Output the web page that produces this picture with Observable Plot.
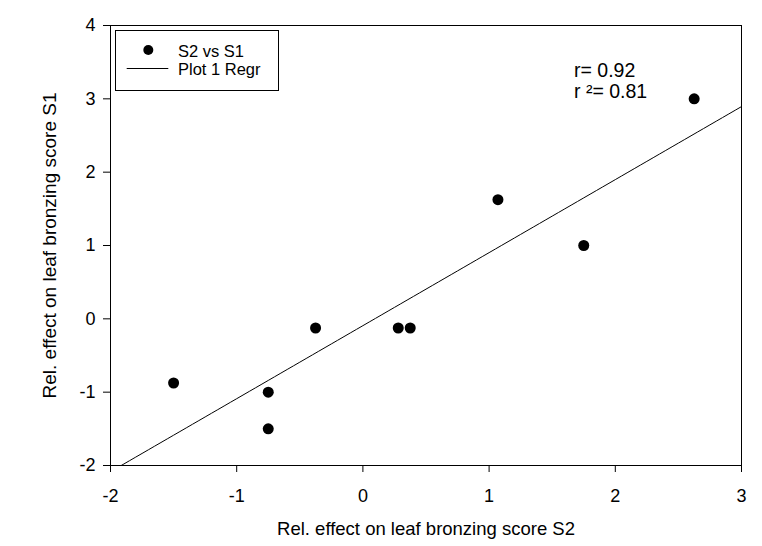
<!DOCTYPE html>
<html>
<head>
<meta charset="utf-8">
<script src="https://cdn.jsdelivr.net/npm/d3@7"></script>
<script src="https://cdn.jsdelivr.net/npm/@observablehq/plot@0.6"></script>
<style>
  html, body { margin: 0; padding: 0; background: #fff; }
  #chart svg { font-family: "Liberation Sans", Arial, sans-serif; }
</style>
</head>
<body>
<div id="chart"></div>
<script>
// Relative effect on leaf bronzing score: S2 (x) vs S1 (y)
const s2 = [2.625, 1.07, 1.75, 0.28, 0.375, -0.375, -0.75, -0.75, -1.5];
const s1 = [3.0, 1.625, 1.0, -0.125, -0.125, -0.125, -1.0, -1.5, -0.875];
const xTicks = [-2, -1, 0, 1, 2, 3];
const yTicks = [-2, -1, 0, 1, 2, 3, 4];
const legendLabels = ["S2 vs S1", "Plot 1 Regr"];
const statLabels = ["r= 0.92", "r \u00b2= 0.81"];

const points = s2.map((x, i) => ({x, y: s1[i]}));

// Least-squares fit of S1 on S2
const mx = d3.mean(s2), my = d3.mean(s1);
const sxy = d3.sum(points, d => (d.x - mx) * (d.y - my));
const sxx = d3.sum(points, d => (d.x - mx) ** 2);
const slope = sxy / sxx;
const intercept = my - slope * mx;
const xDomain = [xTicks[0], xTicks[xTicks.length - 1]];
const fit = d3.range(xDomain[0], xDomain[1] + 1e-9, 0.05).map(x => ({x, y: intercept + slope * x}));

const tickFmt = v => String(v);

// Legend box and correlation labels, placed relative to the frame
function legend(index, scales, values, dims) {
  const g = d3.create("svg:g").attr("text-anchor", "start");
  const x0 = dims.marginLeft, y0 = dims.marginTop;
  g.append("rect")
    .attr("x", x0 + 5.5).attr("y", y0 + 5.5)
    .attr("width", 163).attr("height", 60)
    .attr("fill", "white").attr("stroke", "black").attr("stroke-width", 1);
  g.append("circle")
    .attr("cx", x0 + 38.3).attr("cy", y0 + 25).attr("r", 5).attr("fill", "black");
  g.append("line")
    .attr("x1", x0 + 16.7).attr("x2", x0 + 58.3)
    .attr("y1", y0 + 43.5).attr("y2", y0 + 43.5)
    .attr("stroke", "black").attr("stroke-width", 1);
  legendLabels.forEach((t, i) => {
    g.append("text")
      .attr("x", x0 + 68).attr("y", y0 + 32.3 + i * 17.7)
      .attr("font-size", 16.5).attr("fill", "black").text(t);
  });
  statLabels.forEach((t, i) => {
    g.append("text")
      .attr("x", x0 + 464).attr("y", y0 + 51.7 + i * 21.6)
      .attr("font-size", 19.5).attr("fill", "black").text(t);
  });
  return g.node();
}

const chart = Plot.plot({
  width: 762,
  height: 546,
  marginLeft: 110,
  marginRight: 21,
  marginTop: 25,
  marginBottom: 81,
  style: {fontFamily: "'Liberation Sans', Arial, sans-serif", fontSize: "18px", color: "black", background: "white"},
  x: {domain: xDomain, label: null},
  y: {domain: [yTicks[0], yTicks[yTicks.length - 1]], label: null},
  marks: [
    Plot.frame({stroke: "black", strokeWidth: 1}),
    Plot.axisX({ticks: xTicks, tickFormat: tickFmt, tickSize: 7, tickPadding: 17, fontSize: 18, label: null}),
    Plot.axisY({ticks: yTicks, tickFormat: tickFmt, tickSize: 7, tickPadding: 8, fontSize: 18, label: null}),
    Plot.axisX({ticks: [], label: "Rel. effect on leaf bronzing score S2", labelAnchor: "center", labelArrow: "none", labelOffset: 69, fontSize: 18.5}),
    Plot.axisY({ticks: [], label: "Rel. effect on leaf bronzing score S1", labelAnchor: "center", labelArrow: "none", labelOffset: 68, fontSize: 19}),
    Plot.line(fit, {x: "x", y: "y", stroke: "black", strokeWidth: 1, clip: true}),
    Plot.dot(points, {x: "x", y: "y", r: 5.5, fill: "black", stroke: "none"}),
    legend
  ]
});

document.getElementById("chart").appendChild(chart);
</script>
</body>
</html>
